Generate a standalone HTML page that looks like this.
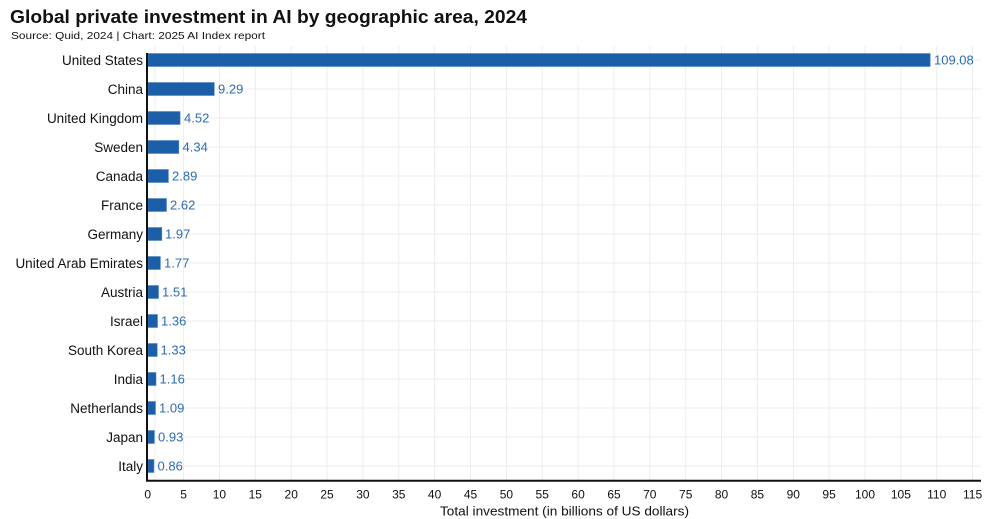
<!DOCTYPE html>
<html><head><meta charset="utf-8"><style>
html,body{margin:0;padding:0;background:#fff;}
svg{display:block;font-family:"Liberation Sans",sans-serif;}
</style></head><body>
<svg width="1000" height="519" viewBox="0 0 1000 519" xmlns="http://www.w3.org/2000/svg">
<rect width="1000" height="519" fill="#fff"/>
<text x="10" y="23" font-size="18" font-weight="bold" fill="#111" textLength="517" lengthAdjust="spacingAndGlyphs">Global private investment in AI by geographic area, 2024</text>
<text x="11" y="39" font-size="10.5" fill="#111" textLength="254" lengthAdjust="spacingAndGlyphs">Source: Quid, 2024 | Chart: 2025 AI Index report</text>
<g stroke="#ededed" stroke-width="1">
<line x1="154.9" y1="46" x2="154.9" y2="480"/><line x1="183.6" y1="46" x2="183.6" y2="480"/><line x1="219.4" y1="46" x2="219.4" y2="480"/><line x1="255.3" y1="46" x2="255.3" y2="480"/><line x1="291.2" y1="46" x2="291.2" y2="480"/><line x1="327.0" y1="46" x2="327.0" y2="480"/><line x1="362.9" y1="46" x2="362.9" y2="480"/><line x1="398.8" y1="46" x2="398.8" y2="480"/><line x1="434.6" y1="46" x2="434.6" y2="480"/><line x1="470.5" y1="46" x2="470.5" y2="480"/><line x1="506.4" y1="46" x2="506.4" y2="480"/><line x1="542.2" y1="46" x2="542.2" y2="480"/><line x1="578.1" y1="46" x2="578.1" y2="480"/><line x1="614.0" y1="46" x2="614.0" y2="480"/><line x1="649.8" y1="46" x2="649.8" y2="480"/><line x1="685.7" y1="46" x2="685.7" y2="480"/><line x1="721.5" y1="46" x2="721.5" y2="480"/><line x1="757.4" y1="46" x2="757.4" y2="480"/><line x1="793.3" y1="46" x2="793.3" y2="480"/><line x1="829.1" y1="46" x2="829.1" y2="480"/><line x1="865.0" y1="46" x2="865.0" y2="480"/><line x1="900.9" y1="46" x2="900.9" y2="480"/><line x1="936.7" y1="46" x2="936.7" y2="480"/><line x1="972.6" y1="46" x2="972.6" y2="480"/>
<line x1="148" y1="60" x2="981" y2="60"/><line x1="148" y1="89" x2="981" y2="89"/><line x1="148" y1="118" x2="981" y2="118"/><line x1="148" y1="147" x2="981" y2="147"/><line x1="148" y1="176" x2="981" y2="176"/><line x1="148" y1="205" x2="981" y2="205"/><line x1="148" y1="234" x2="981" y2="234"/><line x1="148" y1="263" x2="981" y2="263"/><line x1="148" y1="292" x2="981" y2="292"/><line x1="148" y1="321" x2="981" y2="321"/><line x1="148" y1="350" x2="981" y2="350"/><line x1="148" y1="379" x2="981" y2="379"/><line x1="148" y1="408" x2="981" y2="408"/><line x1="148" y1="437" x2="981" y2="437"/><line x1="148" y1="466" x2="981" y2="466"/>
</g>
<g fill="#1c5fa8" stroke="#4f85c2" stroke-width="0.6">
<rect x="148" y="53.5" width="782.2" height="13"/>
<rect x="148" y="82.5" width="66.3" height="13"/>
<rect x="148" y="111.5" width="32.1" height="13"/>
<rect x="148" y="140.5" width="30.8" height="13"/>
<rect x="148" y="169.5" width="20.4" height="13"/>
<rect x="148" y="198.5" width="18.5" height="13"/>
<rect x="148" y="227.5" width="13.8" height="13"/>
<rect x="148" y="256.5" width="12.4" height="13"/>
<rect x="148" y="285.5" width="10.5" height="13"/>
<rect x="148" y="314.5" width="9.5" height="13"/>
<rect x="148" y="343.5" width="9.2" height="13"/>
<rect x="148" y="372.5" width="8.0" height="13"/>
<rect x="148" y="401.5" width="7.5" height="13"/>
<rect x="148" y="430.5" width="6.4" height="13"/>
<rect x="148" y="459.5" width="5.9" height="13"/>
</g>
<g font-size="13" fill="#2e6db1">
<text x="934" y="64.5">109.08</text>
<text x="218" y="93.5">9.29</text>
<text x="184" y="122.5">4.52</text>
<text x="182.5" y="151.5">4.34</text>
<text x="172" y="180.5">2.89</text>
<text x="170" y="209.5">2.62</text>
<text x="165" y="238.5">1.97</text>
<text x="164" y="267.5">1.77</text>
<text x="162" y="296.5">1.51</text>
<text x="161" y="325.5">1.36</text>
<text x="160.5" y="354.5">1.33</text>
<text x="159.5" y="383.5">1.16</text>
<text x="159" y="412.5">1.09</text>
<text x="158" y="441.5">0.93</text>
<text x="157.5" y="470.5">0.86</text>
</g>
<g font-size="13.5" fill="#111" text-anchor="end">
<text x="143" y="64.8">United States</text>
<text x="143" y="93.8">China</text>
<text x="143" y="122.8">United Kingdom</text>
<text x="143" y="151.8">Sweden</text>
<text x="143" y="180.8">Canada</text>
<text x="143" y="209.8">France</text>
<text x="143" y="238.8">Germany</text>
<text x="143" y="267.8">United Arab Emirates</text>
<text x="143" y="296.8">Austria</text>
<text x="143" y="325.8">Israel</text>
<text x="143" y="354.8">South Korea</text>
<text x="143" y="383.8">India</text>
<text x="143" y="412.8">Netherlands</text>
<text x="143" y="441.8">Japan</text>
<text x="143" y="470.8">Italy</text>
</g>
<line x1="147" y1="53" x2="147" y2="481.5" stroke="#111" stroke-width="2"/>
<line x1="146" y1="480.7" x2="981" y2="480.7" stroke="#111" stroke-width="2"/>
<g font-size="12" fill="#111" text-anchor="middle">
<text x="147.7" y="498.5">0</text><text x="183.6" y="498.5">5</text><text x="219.4" y="498.5">10</text><text x="255.3" y="498.5">15</text><text x="291.2" y="498.5">20</text><text x="327.0" y="498.5">25</text><text x="362.9" y="498.5">30</text><text x="398.8" y="498.5">35</text><text x="434.6" y="498.5">40</text><text x="470.5" y="498.5">45</text><text x="506.4" y="498.5">50</text><text x="542.2" y="498.5">55</text><text x="578.1" y="498.5">60</text><text x="614.0" y="498.5">65</text><text x="649.8" y="498.5">70</text><text x="685.7" y="498.5">75</text><text x="721.5" y="498.5">80</text><text x="757.4" y="498.5">85</text><text x="793.3" y="498.5">90</text><text x="829.1" y="498.5">95</text><text x="865.0" y="498.5">100</text><text x="900.9" y="498.5">105</text><text x="936.7" y="498.5">110</text><text x="972.6" y="498.5">115</text>
</g>
<text x="440" y="515.5" font-size="12.5" fill="#111" textLength="249" lengthAdjust="spacingAndGlyphs">Total investment (in billions of US dollars)</text>
</svg>
</body></html>
